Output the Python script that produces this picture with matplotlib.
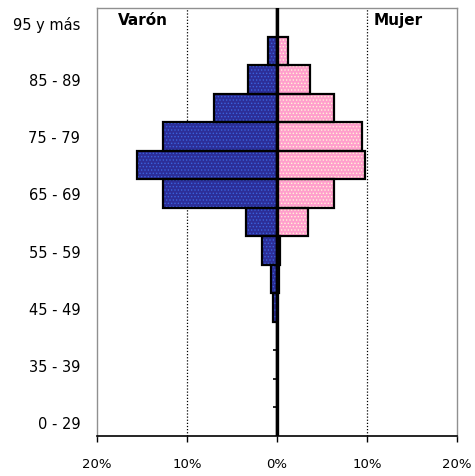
import numpy as np
import matplotlib.pyplot as plt

# Age groups, bottom to top
grupos = ['0 - 29', '30 - 34', '35 - 39', '40 - 44', '45 - 49', '50 - 54',
          '55 - 59', '60 - 64', '65 - 69', '70 - 74', '75 - 79', '80 - 84',
          '85 - 89', '90 - 94', '95 y más']
# Share of population (%) per group
varon = [0.0, 0.0, 0.0, 0.0, 0.4, 0.7, 1.7, 3.4, 12.7, 15.5, 12.7, 7.0, 3.2, 1.0, 0.0]
mujer = [0.0, 0.0, 0.0, 0.0, 0.0, 0.2, 0.3, 3.4, 6.3, 9.8, 9.5, 6.3, 3.7, 1.2, 0.0]
xticks = [-20, -10, 0, 10, 20]
xlabels = ['20%', '10%', '0%', '10%', '20%']

plt.rcParams['hatch.linewidth'] = 0.6

fig = plt.figure(figsize=(4.75, 4.77), dpi=100)
ax = fig.add_axes([0.204, 0.084, 0.758, 0.897])

y = np.arange(len(grupos))
v = -np.array(varon)
m = np.array(mujer)

# fill + dot pattern, then black outline on top
ax.barh(y, v, height=1.0, color='#2c2e98', edgecolor='#3a62dc', hatch='.....', linewidth=0, zorder=2)
ax.barh(y, m, height=1.0, color='#ff9fcc', edgecolor='#fff4d8', hatch='.....', linewidth=0, zorder=2)
ax.barh(y, v, height=1.0, fill=False, edgecolor='black', linewidth=1.6, zorder=3)
ax.barh(y, m, height=1.0, fill=False, edgecolor='black', linewidth=1.6, zorder=3)

# dotted gridlines at +-10%
for gx in (-10, 10):
    ax.axvline(gx, color='black', linestyle=(0, (1, 1.5)), linewidth=0.9, zorder=1)

# central axis with small ticks between groups
ax.axvline(0, color='black', linewidth=2.4, zorder=4)
ax.hlines(np.arange(len(grupos) - 1) + 0.5, -0.45, 0, color='black', linewidth=1.2, zorder=4)

ax.set_xlim(-20, 20)
ax.set_ylim(-0.5, len(grupos) - 0.5)

ax.set_xticks(xticks)
ax.set_xticklabels(xlabels, fontsize=9.5)
ax.tick_params(axis='x', direction='out', length=4, width=1, pad=11)

ax.set_yticks(y[::2])
ax.set_yticklabels(grupos[::2], fontsize=10.5)
ax.tick_params(axis='y', length=0, pad=12)

for s in ('top', 'left', 'right'):
    ax.spines[s].set_color('#909090')
    ax.spines[s].set_linewidth(1.0)
ax.spines['bottom'].set_color('black')
ax.spines['bottom'].set_linewidth(1.2)

ax.text(-17.7, 14.1, 'Varón', fontsize=11, fontweight='heavy', va='center', ha='left')
ax.text(10.7, 14.1, 'Mujer', fontsize=11, fontweight='heavy', va='center', ha='left')

fig.savefig('out.png', dpi=100)
